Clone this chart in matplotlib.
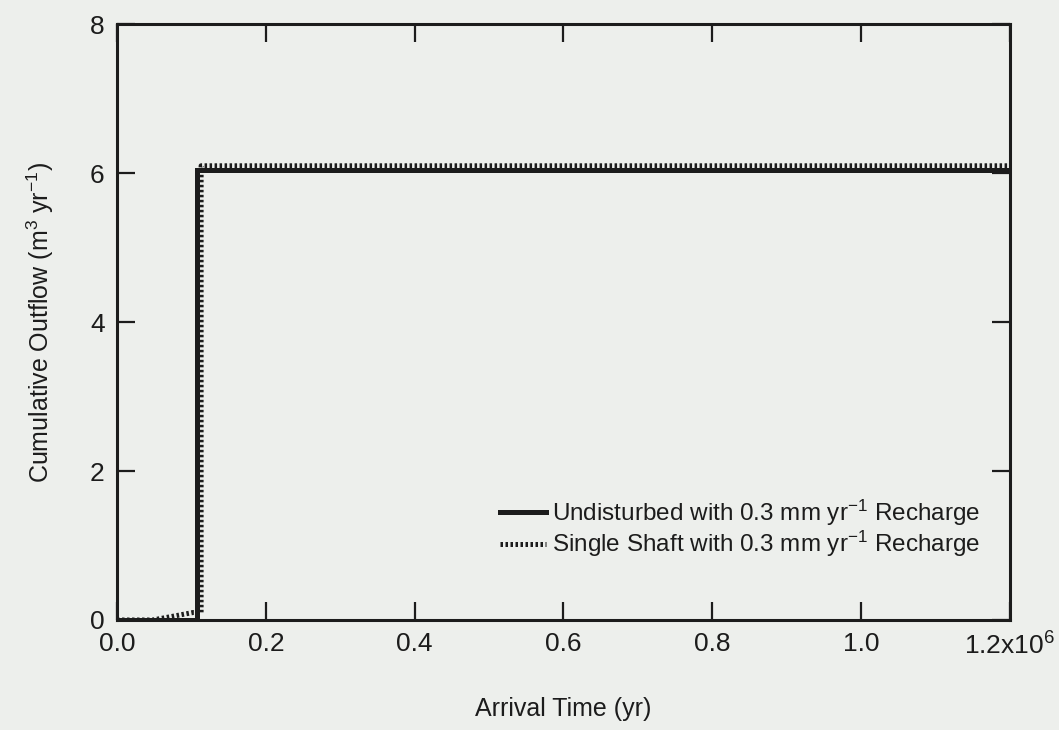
import matplotlib
matplotlib.use("Agg")
import matplotlib.pyplot as plt

plt.rcParams['font.family'] = ['Liberation Sans', 'DejaVu Sans']
plt.rcParams['mathtext.default'] = 'regular'

# datos (tiempo en yr, caudal acumulado en m3/yr)
t_undisturbed = [0, 0.1075e6, 0.1075e6, 1.2e6]
q_undisturbed = [0, 0, 6.05, 6.05]

t_shaft = [0, 0.048e6, 0.102e6, 0.113e6, 0.113e6, 1.2e6]
q_shaft = [0, 0, 0.1, 0.1, 6.1, 6.1]

xticks = [0, 0.2e6, 0.4e6, 0.6e6, 0.8e6, 1.0e6, 1.2e6]
xlabels = ['0.0', '0.2', '0.4', '0.6', '0.8', '1.0', '1.2x10$^{6}$']
yticks = [0, 2, 4, 6, 8]

paper = '#edefec'
ink = '#1c1c1c'

fig = plt.figure(figsize=(10.59, 7.3), dpi=100, facecolor=paper)
ax = fig.add_axes([0.1105, 0.1507, 0.8432, 0.816], facecolor=paper)

ax.plot(t_undisturbed, q_undisturbed, color=ink, lw=3.6, solid_joinstyle='miter',
        label='Undisturbed with 0.3 mm yr$^{-1}$ Recharge')
ax.plot(t_shaft, q_shaft, color=ink, lw=3.6, linestyle=(0, (0.5, 0.5)),
        label='Single Shaft with 0.3 mm yr$^{-1}$ Recharge')

ax.set_xlim(0, 1.2e6)
ax.set_ylim(0, 8)
ax.set_xticks(xticks)
ax.set_xticklabels(xlabels)
ax.set_yticks(yticks)
ax.tick_params(direction='in', length=13, width=1.6, colors=ink, labelsize=19,
               top=True, right=True, pad=9)
for s in ax.spines.values():
    s.set_linewidth(2.2)
    s.set_color(ink)

ax.set_xlabel('Arrival Time (yr)', fontsize=18, color=ink, labelpad=27)
ax.set_ylabel('Cumulative Outflow (m$^{3}$ yr$^{-1}$)', fontsize=18, color=ink, labelpad=24)

leg = ax.legend(loc='upper left', bbox_to_anchor=(0.429, 0.205), frameon=False,
                fontsize=17.5, handlelength=1.9, handletextpad=0.25, borderpad=0,
                borderaxespad=0, labelspacing=0.05)
for txt in leg.get_texts():
    txt.set_color(ink)

fig.savefig('out.png', dpi=100, facecolor=paper)
